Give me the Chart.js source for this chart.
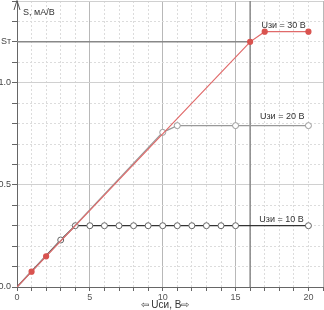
<!DOCTYPE html>
<html lang="ru">
<head>
  <meta charset="UTF-8" />
  <title>S(Uси)</title>
  <script src="https://cdn.jsdelivr.net/npm/chart.js"></script>
  <style>
    * { box-sizing: border-box; margin: 0; padding: 0; }
    html, body { width: 324px; height: 310px; background: #fff; overflow: hidden; }
    #wrap { width: 324px; height: 310px; }
  </style>
</head>
<body>
  <div id="wrap"><canvas id="chart"></canvas></div>

  <script>
    // Uзи = 30 В
    const u30 = [0, 1, 2, 16, 17, 20];
    const s30 = [0, 0.075, 0.15, 1.2, 1.25, 1.25];
    // Uзи = 20 В
    const u20 = [0, 10, 11, 15, 20];
    const s20 = [0, 0.757, 0.79, 0.79, 0.79];
    // Uзи = 10 В
    const u10 = [0, 3, 4, 5, 6, 7, 8, 9, 10, 11, 12, 13, 14, 15, 20];
    const s10 = [0, 0.23, 0.3, 0.3, 0.3, 0.3, 0.3, 0.3, 0.3, 0.3, 0.3, 0.3, 0.3, 0.3, 0.3];

    // saturation point St
    const uT = 16;
    const sT = 1.2;

    const xMax = 21;
    const yMax = 1.4;
    const xTickLabels = [0, 5, 10, 15, 20];
    const yTickLabels = { 0: '0.0', 5: '0.5', 10: '1.0', 12: 'Sт' }; // keys = value*10

    const seriesLabels = [
      { text: 'Uзи = 30 В', x: 18.3, y: 1.28 },
      { text: 'Uзи = 20 В', x: 18.2, y: 0.833 },
      { text: 'Uзи = 10 В', x: 18.15, y: 0.328 }
    ];

    const pts = (xs, ys) => xs.map((x, i) => ({ x: x, y: ys[i] }));
    const FONT = 'Arial, "Liberation Sans", sans-serif';

    // no extra room for half tick labels
    const noPad = s => {
      s.paddingTop = 0; s.paddingBottom = 0;
      s.paddingLeft = 0; s.paddingRight = 0;
    };

    // text labels and y-axis arrow
    const decor = {
      id: 'decor',
      afterDraw(chart) {
        const { ctx, scales: { x, y } } = chart;
        ctx.save();
        ctx.fillStyle = '#333';
        ctx.font = '9px ' + FONT;
        ctx.textAlign = 'center';
        ctx.textBaseline = 'middle';
        seriesLabels.forEach(l => {
          ctx.fillText(l.text, x.getPixelForValue(l.x), y.getPixelForValue(l.y));
        });
        ctx.textAlign = 'left';
        ctx.fillText('S, мА/В', x.left + 6, 13);
        ctx.textAlign = 'center';
        ctx.font = '10px ' + FONT;
        ctx.fillText('⇦ Uси, В⇨', 165, 305);

        // arrow on y axis
        ctx.strokeStyle = '#555';
        ctx.lineWidth = 1;
        ctx.beginPath();
        ctx.moveTo(x.left - 3, 10);
        ctx.lineTo(x.left, 0.5);
        ctx.lineTo(x.left + 3, 10);
        ctx.stroke();
        ctx.restore();
      }
    };

    new Chart(document.getElementById('chart'), {
      type: 'line',
      data: {
        datasets: [
          {
            label: 'Uзи = 30 В',
            data: pts(u30, s30),
            borderColor: '#e06a6a',
            borderWidth: 1.2,
            backgroundColor: '#d9534f',
            pointBackgroundColor: '#d9534f',
            pointBorderColor: '#d9534f',
            pointRadius: ctx => ctx.dataIndex === 0 ? 0 : 2.5,
            tension: 0
          },
          {
            label: 'Uзи = 20 В',
            data: pts(u20, s20),
            borderColor: '#999',
            borderWidth: 1.2,
            pointBackgroundColor: '#fff',
            pointBorderColor: '#999',
            pointBorderWidth: 1,
            pointRadius: ctx => ctx.dataIndex === 0 ? 0 : 3,
            tension: 0
          },
          {
            label: 'Uзи = 10 В',
            data: pts(u10, s10),
            borderColor: '#333',
            borderWidth: 1.2,
            pointBackgroundColor: '#fff',
            pointBorderColor: '#666',
            pointBorderWidth: 1,
            pointRadius: ctx => ctx.dataIndex === 0 ? 0 : 3,
            tension: 0
          },
          {
            label: 'St',
            data: [{ x: 0, y: sT }, { x: uT, y: sT }],
            borderColor: '#888',
            borderWidth: 1.5,
            pointRadius: 0
          },
          {
            label: 'Ut',
            data: [{ x: uT, y: 0 }, { x: uT, y: yMax }],
            borderColor: '#888',
            borderWidth: 1.5,
            pointRadius: 0
          }
        ]
      },
      options: {
        responsive: true,
        maintainAspectRatio: false,
        animation: false,
        layout: { autoPadding: false, padding: { top: 1, right: 1, left: 0, bottom: 0 } },
        plugins: { legend: { display: false }, tooltip: { enabled: false } },
        scales: {
          x: {
            type: 'linear',
            min: 0, max: xMax,
            afterFit: s => { s.height = 23; noPad(s); },
            border: { color: '#666', dash: [2, 2] },
            grid: { color: '#dcdcdc', tickColor: '#666', tickLength: 4 },
            ticks: {
              stepSize: 1, autoSkip: false, maxRotation: 0, padding: 1,
              color: '#555', font: { size: 9, family: FONT },
              callback: v => xTickLabels.includes(Math.round(v)) ? String(Math.round(v)) : ''
            }
          },
          x2: {
            type: 'linear', position: 'bottom',
            min: 0, max: xMax,
            afterFit: s => { s.height = 0; noPad(s); },
            border: { display: false },
            grid: { color: '#b8b8b8', drawTicks: false },
            ticks: { display: false, stepSize: 5 }
          },
          y: {
            type: 'linear',
            min: 0, max: yMax,
            afterFit: s => { s.width = 17; noPad(s); },
            border: { color: '#666', dash: [2, 2] },
            grid: { color: '#dcdcdc', tickColor: '#666', tickLength: 5 },
            ticks: {
              stepSize: 0.1, autoSkip: false, padding: 1,
              color: '#444', font: { size: 9, family: FONT },
              callback: v => yTickLabels[Math.round(v * 10)] || ''
            }
          },
          y2: {
            type: 'linear', position: 'left',
            min: 0, max: yMax,
            afterFit: s => { s.width = 0; noPad(s); },
            border: { display: false },
            grid: { color: '#d0d0d0', drawTicks: false },
            ticks: { display: false, stepSize: 0.5 }
          }
        }
      },
      plugins: [decor]
    });
  </script>
</body>
</html>
